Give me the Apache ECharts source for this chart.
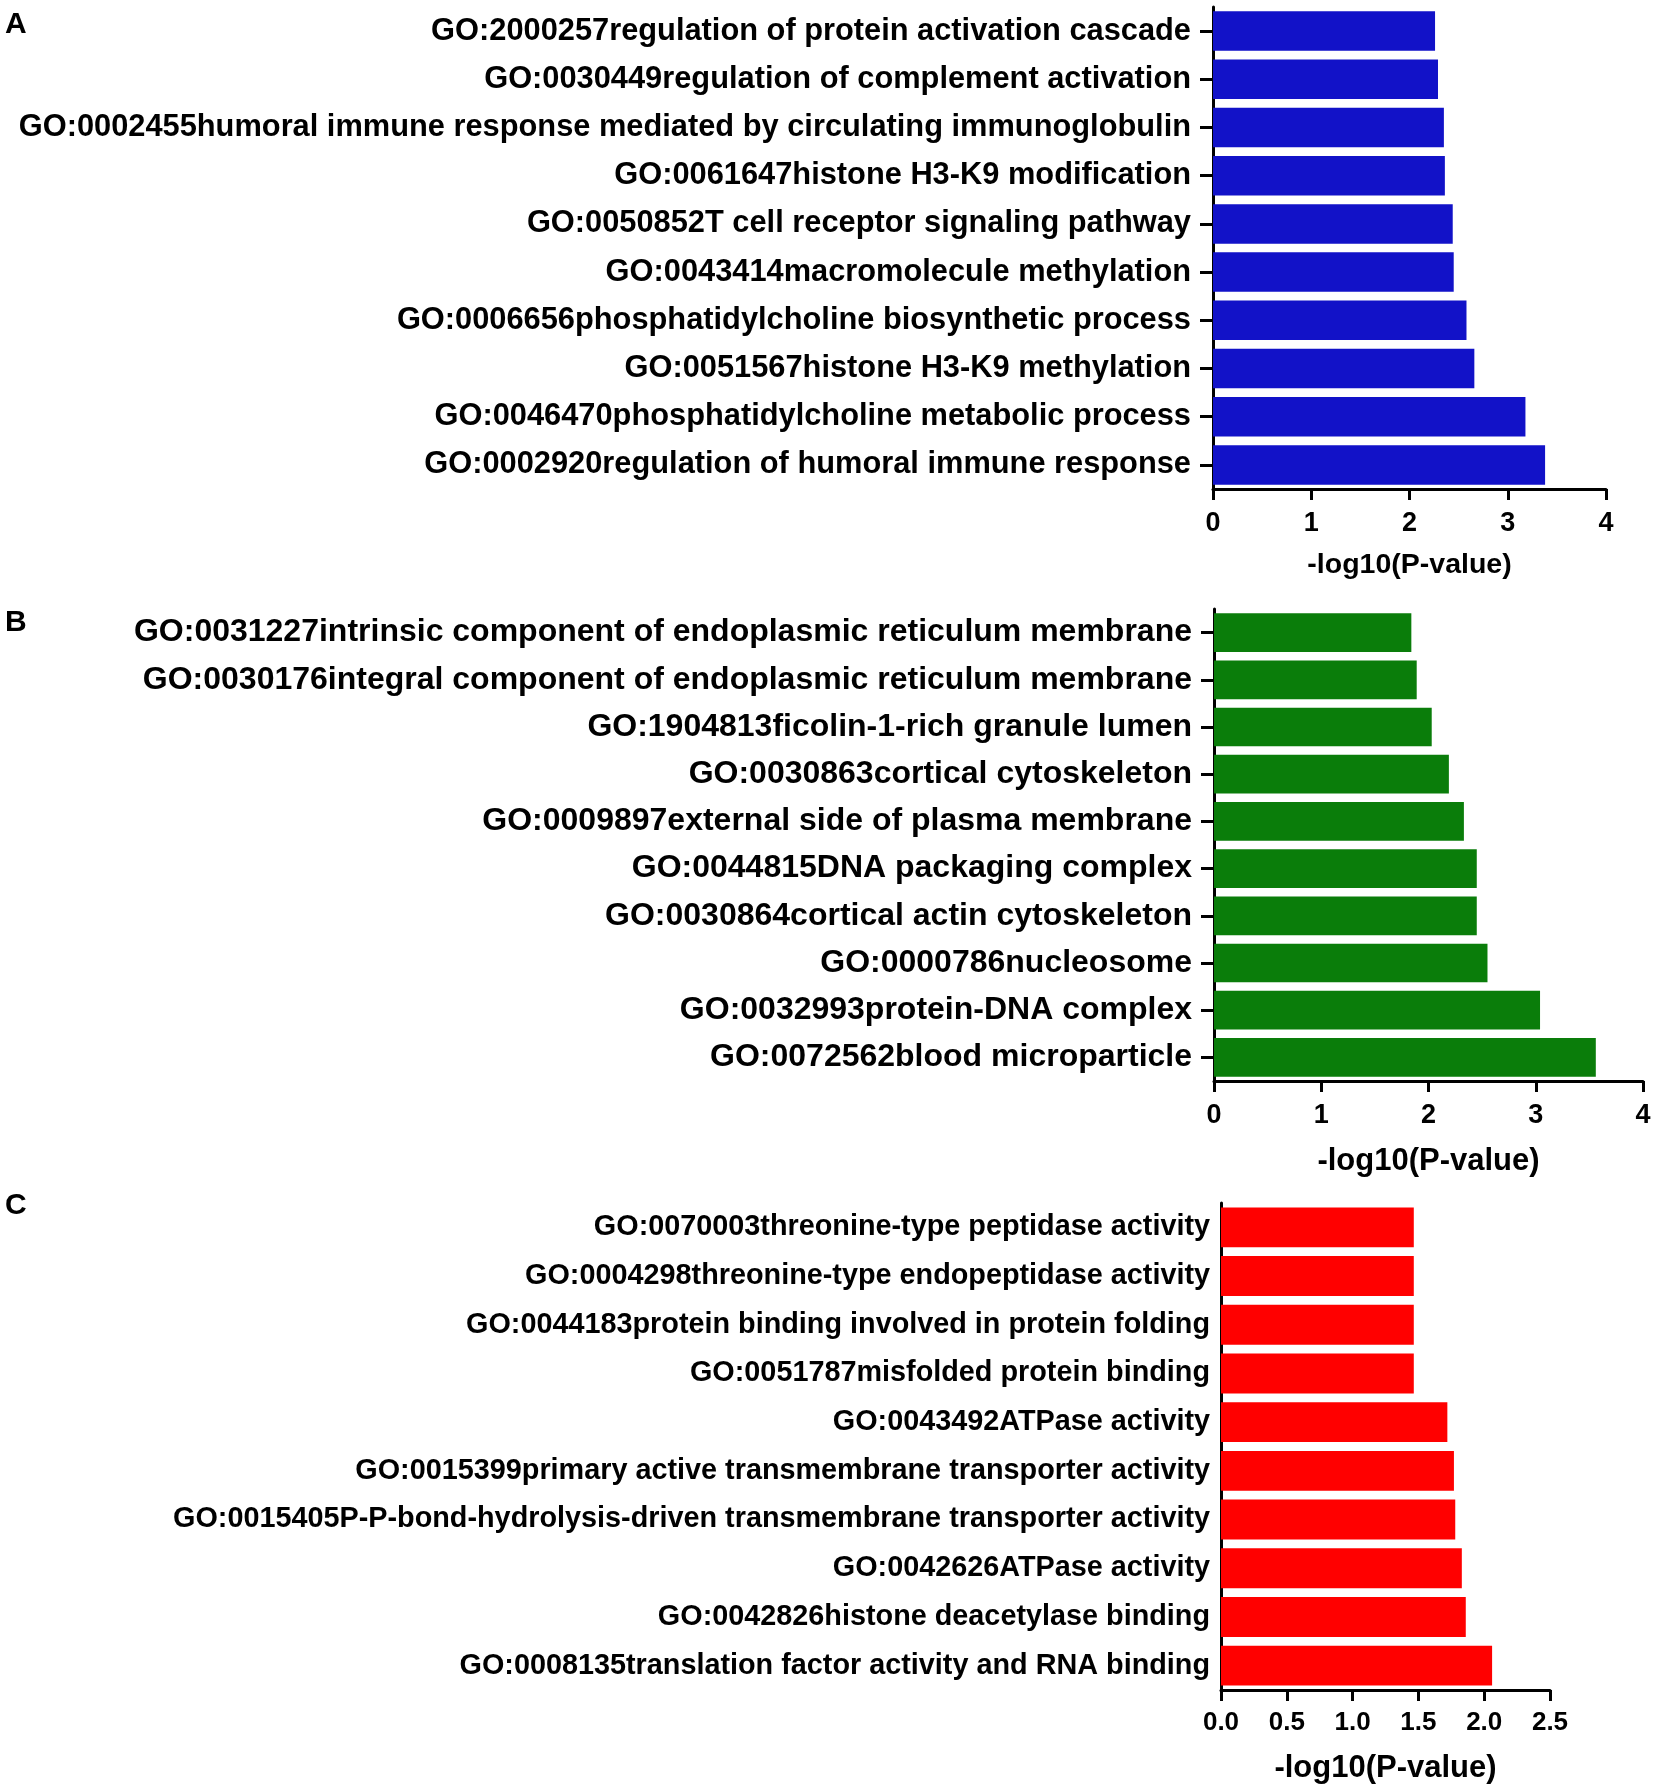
<!DOCTYPE html>
<html lang="en">

<head>
    <meta charset="UTF-8">
    <title>GO enrichment</title>
    <script src="https://cdn.jsdelivr.net/npm/echarts@6/dist/echarts.min.js"></script>
    <style>
        body { margin: 0; background: #fff; }
        #chart { width: 1655px; height: 1787px; }
    </style>
</head>

<body>
    <div id="chart"></div>

    <script>
        // A: biological process (top to bottom)
        const termsA = [
            'GO:2000257regulation of protein activation cascade',
            'GO:0030449regulation of complement activation',
            'GO:0002455humoral immune response mediated by circulating immunoglobulin',
            'GO:0061647histone H3-K9 modification',
            'GO:0050852T cell receptor signaling pathway',
            'GO:0043414macromolecule methylation',
            'GO:0006656phosphatidylcholine biosynthetic process',
            'GO:0051567histone H3-K9 methylation',
            'GO:0046470phosphatidylcholine metabolic process',
            'GO:0002920regulation of humoral immune response'
        ];
        const valuesA = [2.26, 2.29, 2.35, 2.36, 2.44, 2.45, 2.58, 2.66, 3.18, 3.38];

        // B: cellular component
        const termsB = [
            'GO:0031227intrinsic component of endoplasmic reticulum membrane',
            'GO:0030176integral component of endoplasmic reticulum membrane',
            'GO:1904813ficolin-1-rich granule lumen',
            'GO:0030863cortical cytoskeleton',
            'GO:0009897external side of plasma membrane',
            'GO:0044815DNA packaging complex',
            'GO:0030864cortical actin cytoskeleton',
            'GO:0000786nucleosome',
            'GO:0032993protein-DNA complex',
            'GO:0072562blood microparticle'
        ];
        const valuesB = [1.84, 1.89, 2.03, 2.19, 2.33, 2.45, 2.45, 2.55, 3.04, 3.56];

        // C: molecular function
        const termsC = [
            'GO:0070003threonine-type peptidase activity',
            'GO:0004298threonine-type endopeptidase activity',
            'GO:0044183protein binding involved in protein folding',
            'GO:0051787misfolded protein binding',
            'GO:0043492ATPase activity',
            'GO:0015399primary active transmembrane transporter activity',
            'GO:0015405P-P-bond-hydrolysis-driven transmembrane transporter activity',
            'GO:0042626ATPase activity',
            'GO:0042826histone deacetylase binding',
            'GO:0008135translation factor activity and RNA binding'
        ];
        const valuesC = [1.465, 1.465, 1.465, 1.465, 1.72, 1.77, 1.78, 1.83, 1.86, 2.06];

        const panelLetters = ['A', 'B', 'C'];

        const font = '"Liberation Sans", Arial, sans-serif';
        const black = '#000';

        // layout per panel
        const panels = [
            { terms: termsA, values: valuesA, color: '#1212c8', max: 4, step: 1,
              grid: { left: 1213, top: 7, width: 393, height: 482 },
              labelSize: 30.8, yTicks: true, yMargin: 22, tickSize: 27, tickMargin: 21,
              nameSize: 28.5, nameGap: 62, letterTop: 5 },
            { terms: termsB, values: valuesB, color: '#0a7d0a', max: 4, step: 1,
              grid: { left: 1214, top: 609, width: 429, height: 472 },
              labelSize: 32, yTicks: true, yMargin: 22, tickSize: 27, tickMargin: 21,
              nameSize: 31, nameGap: 65, letterTop: 603 },
            { terms: termsC, values: valuesC, color: '#ff0000', max: 2.5, step: 0.5,
              grid: { left: 1221, top: 1203, width: 329, height: 487 },
              labelSize: 28.8, yTicks: false, yMargin: 11, tickSize: 26, tickMargin: 20,
              nameSize: 31, nameGap: 63, letterTop: 1186 }
        ];

        const chart = echarts.init(document.getElementById('chart'));

        const option = {
            animation: false,
            backgroundColor: '#fff',
            textStyle: { fontFamily: font },
            title: panels.map((p, i) => ({
                text: panelLetters[i],
                left: 0,
                top: p.letterTop,
                textStyle: { fontSize: 30, fontWeight: 'bold', color: black, fontFamily: font }
            })),
            grid: panels.map(p => p.grid),
            xAxis: panels.map((p, i) => ({
                type: 'value',
                gridIndex: i,
                min: 0,
                max: p.max,
                interval: p.step,
                name: '-log10(P-value)',
                nameLocation: 'middle',
                nameGap: p.nameGap,
                nameTextStyle: { fontSize: p.nameSize, fontWeight: 'bold', color: black },
                splitLine: { show: false },
                axisLine: { show: true, lineStyle: { color: black, width: 3 } },
                axisTick: { show: true, length: 11, lineStyle: { color: black, width: 3 } },
                axisLabel: {
                    fontSize: p.tickSize, fontWeight: 'bold', color: black, margin: p.tickMargin,
                    formatter: v => p.step < 1 ? v.toFixed(1) : String(v)
                }
            })),
            yAxis: panels.map((p, i) => ({
                type: 'category',
                gridIndex: i,
                inverse: true,
                data: p.terms,
                axisLine: { show: true, lineStyle: { color: black, width: 3 } },
                axisTick: { show: p.yTicks, alignWithLabel: true, length: 13, lineStyle: { color: black, width: 3 } },
                axisLabel: { interval: 0, fontSize: p.labelSize, fontWeight: 'bold', color: black, margin: p.yMargin }
            })),
            series: panels.map((p, i) => ({
                type: 'bar',
                xAxisIndex: i,
                yAxisIndex: i,
                data: p.values,
                barCategoryGap: '18%',
                itemStyle: { color: p.color }
            }))
        };

        chart.setOption(option);
    </script>
</body>

</html>
